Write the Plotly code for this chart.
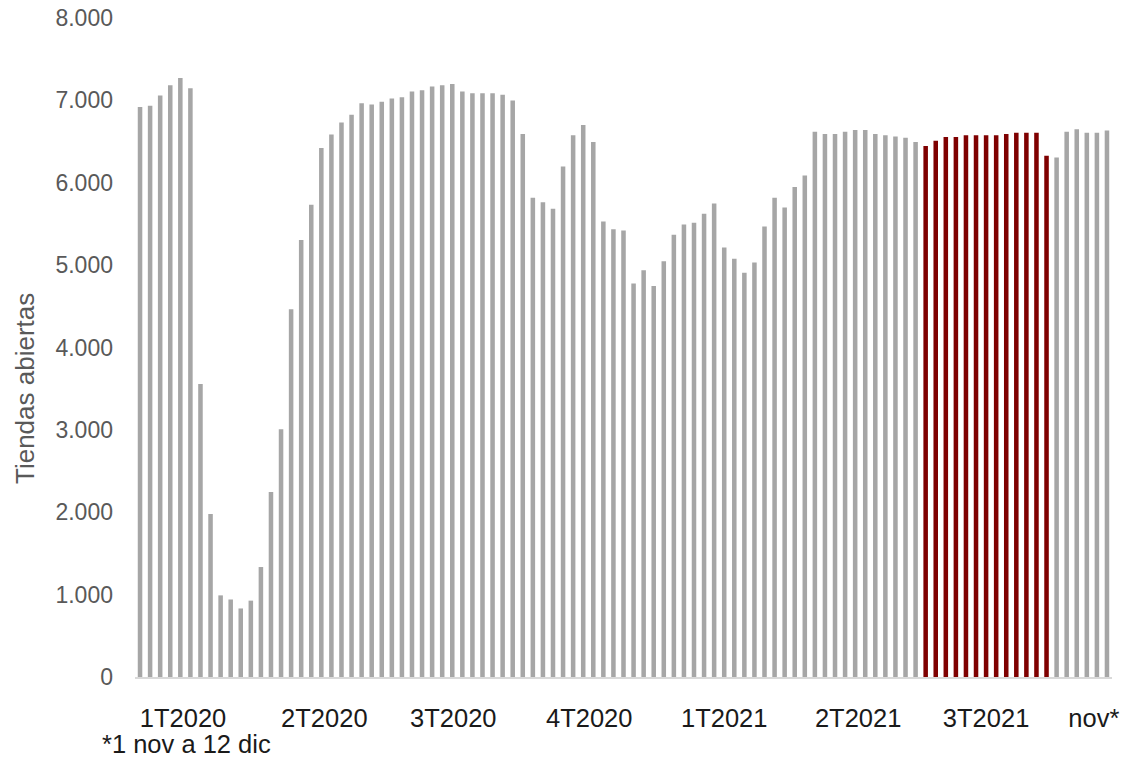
import plotly.graph_objects as go

# Weekly open stores
values = [
    6919, 6934, 7059, 7183, 7273, 7148, 3557, 1978, 991, 941, 832, 927, 1335,
    2247, 3009, 4463, 5305, 5734, 6421, 6586, 6730, 6825, 6964, 6949, 6984, 7024,
    7039, 7108, 7123, 7168, 7183, 7198, 7108, 7088, 7088, 7088, 7069, 6999,
    6591, 5818, 5763, 5684, 6197, 6576, 6700, 6496, 5529, 5435, 5420, 4777, 4937,
    4747, 5046, 5370, 5494, 5514, 5624, 5749, 5215, 5076, 4907, 5031, 5470, 5818,
    5699, 5948, 6087, 6620, 6591, 6591, 6620, 6640, 6640, 6591, 6576, 6561, 6546,
    6496, 6446, 6511, 6556, 6556, 6576, 6576, 6576, 6576, 6591, 6606, 6606, 6606,
    6327, 6307, 6620, 6650, 6606, 6606, 6635,
]
# index range of highlighted weeks (3T2021)
highlight_start = 78
highlight_end = 90

tick_positions = [4.27, 18.3, 31.1, 44.6, 58.0, 71.3, 84.0, 94.7]
tick_labels = ["1T2020", "2T2020", "3T2020", "4T2020", "1T2021", "2T2021", "3T2021", "nov*"]
y_ticks = [0, 1000, 2000, 3000, 4000, 5000, 6000, 7000, 8000]

GRAY = "#A6A6A6"
RED = "#7F0000"

x = list(range(len(values)))
colors = [RED if highlight_start <= i <= highlight_end else GRAY for i in x]

fig = go.Figure()
fig.add_trace(go.Bar(x=x, y=values, marker=dict(color=colors, line=dict(width=0)),
                     width=0.45, hoverinfo="y"))

fig.update_layout(
    width=1122, height=758,
    margin=dict(l=135, r=10, t=18, b=81),
    paper_bgcolor="white", plot_bgcolor="white",
    font=dict(family="Liberation Sans, Arial, sans-serif"),
    separators=",.",
    showlegend=False,
    bargap=0.5,
)
fig.update_xaxes(
    range=[-0.5, len(values) - 0.5],
    tickmode="array", tickvals=tick_positions, ticktext=tick_labels,
    tickfont=dict(size=25.5, color="#1a1a1a"),
    ticks="outside", ticklen=17, tickcolor="rgba(0,0,0,0)",
    showline=True, linecolor="#D9D9D9", linewidth=2,
    showgrid=False, zeroline=False, automargin=False,
)
fig.update_yaxes(
    range=[0, 8000],
    tickmode="array", tickvals=y_ticks,
    tickformat=",d",
    tickfont=dict(size=23, color="#595959"),
    ticks="", ticklabelstandoff=21,
    showline=False, showgrid=False, zeroline=False, automargin=False,
)
fig.add_annotation(
    text="Tiendas abiertas", textangle=-90,
    xref="paper", yref="paper",
    x=(25 - 135) / 977, y=(677 - 389) / 659,
    xanchor="center", yanchor="middle", showarrow=False,
    font=dict(size=26, color="#595959"),
)
fig.add_annotation(
    text="*1 nov a 12 dic",
    xref="paper", yref="paper",
    x=(100 - 135) / 977, y=(677 - 744) / 659,
    xanchor="left", yanchor="middle", showarrow=False,
    font=dict(size=25.5, color="#1a1a1a"),
)

fig.write_html(
    "out.html",
    config={"displayModeBar": False},
    post_script="document.body.style.margin='0';document.body.style.overflow='hidden';",
)
